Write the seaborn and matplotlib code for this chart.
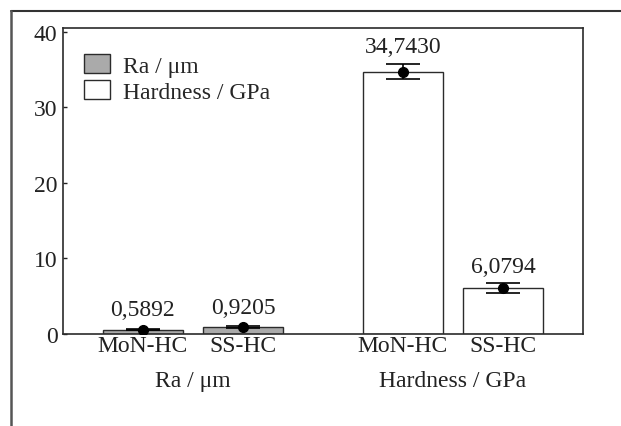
import matplotlib
matplotlib.use("Agg")
import matplotlib.pyplot as plt
from matplotlib.lines import Line2D
from matplotlib.patches import Patch
import pandas as pd
import seaborn as sns

# values
samples = ["MoN-HC", "SS-HC"]
groups = ["Ra / μm", "Hardness / GPa"]
ra_mean = [0.5892, 0.9205]
ra_err = [0.06, 0.08]
hardness_mean = [34.7430, 6.0794]
hardness_err = [1.05, 0.71]
y_ticks = [0, 10, 20, 30, 40]

group_colors = {"Ra / μm": "#aaaaaa", "Hardness / GPa": "white"}
edge = "#2b2b2b"

df = pd.DataFrame({
    "group": [groups[0]] * 2 + [groups[1]] * 2,
    "sample": samples * 2,
    "value": ra_mean + hardness_mean,
    "err": ra_err + hardness_err,
})

sns.set_style("white")
plt.rcParams["font.family"] = ["Liberation Serif", "DejaVu Serif"]
plt.rcParams["font.size"] = 17

fig = plt.figure(figsize=(6.21, 4.27), dpi=100)
ax = fig.add_axes([0.1014, 0.2155, 0.8374, 0.7165])

sns.barplot(
    data=df, x="group", y="value", hue="sample",
    order=groups, hue_order=samples,
    width=0.77, gap=0.2, errorbar=None,
    edgecolor=edge, linewidth=1.0, ax=ax, legend=False,
)

centers, labels = [], []
for container, sample in zip(ax.containers, samples):
    for bar, group in zip(container, groups):
        row = df[(df["group"] == group) & (df["sample"] == sample)].iloc[0]
        bar.set_facecolor(group_colors[group])
        cx = bar.get_x() + bar.get_width() / 2
        centers.append(cx)
        labels.append(sample)
        ax.errorbar(cx, row["value"], yerr=row["err"], fmt="o", color="black",
                    ms=7, elinewidth=1.2, capsize=12, capthick=1.2, zorder=5)
        # small Ra bars carry their label a little higher
        off = 8 if row["value"] > 2 else 10
        ax.annotate(f"{row['value']:.4f}".replace(".", ","),
                    (cx, row["value"] + row["err"]), xytext=(0, off),
                    textcoords="offset points", ha="center", va="baseline",
                    color="#222222")

ax.set_ylim(0, 40.5)
ax.set_xlim(-0.5, 1.5)
ax.set_yticks(y_ticks)
ax.tick_params(axis="y", direction="in", length=3, width=1, pad=4,
               left=True, colors="#222222")
ax.set_xticks(centers, labels=labels, minor=True)
ax.set_xticks([0, 1], labels=groups)
ax.tick_params(axis="x", which="minor", length=0, pad=1, colors="#222222")
ax.tick_params(axis="x", which="major", length=0, pad=26, colors="#222222")
ax.set_xlabel("")
ax.set_ylabel("")
for s in ax.spines.values():
    s.set_color(edge)
    s.set_linewidth(1.2)

handles = [Patch(facecolor=group_colors[g], edgecolor=edge, linewidth=1.0)
           for g in groups]
ax.legend(handles, groups, loc="upper left", bbox_to_anchor=(0.022, 0.946),
          borderaxespad=0, frameon=False, handlelength=1.1, handleheight=0.85,
          handletextpad=0.55, labelspacing=0.15)

# outer frame lines of the original figure
fig.add_artist(Line2D([0.0177, 1.0], [0.973, 0.973], transform=fig.transFigure,
                      color="#333333", lw=1.5))
fig.add_artist(Line2D([0.0177, 0.0177], [0.0, 0.973], transform=fig.transFigure,
                      color="#555555", lw=1.8))

fig.savefig("out.png", dpi=100)
